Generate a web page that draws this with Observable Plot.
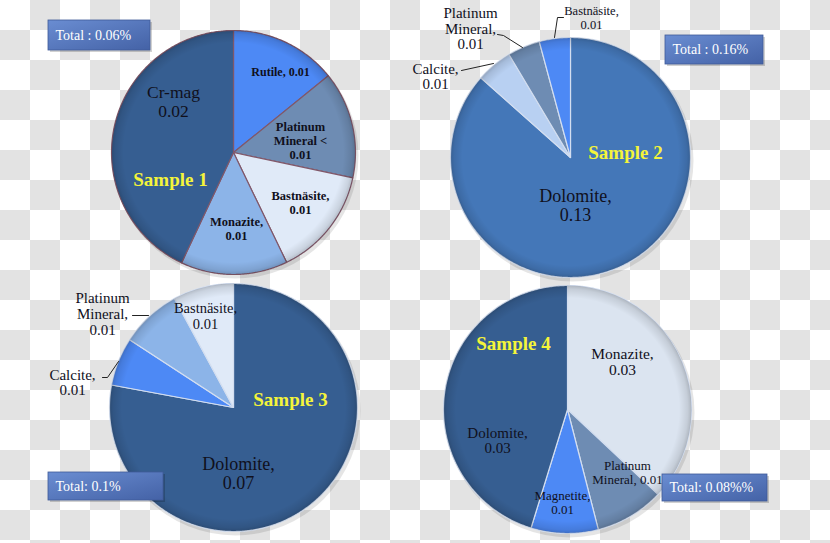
<!DOCTYPE html>
<html>
<head>
<meta charset="utf-8">
<script src="https://cdn.jsdelivr.net/npm/d3@7"></script>
<script src="https://cdn.jsdelivr.net/npm/@observablehq/plot@0.6"></script>
<style>
  html, body { margin: 0; padding: 0; }
  body {
    width: 830px; height: 543px; overflow: hidden;
    background: repeating-conic-gradient(#e3e3e3 0 25%, #ffffff 0 50%) 0 0 / 60px 60px;
  }
</style>
</head>
<body>
<div id="chart"></div>
<script>
// ---------------- DATA ----------------
const sampleNames = ["Sample 1", "Sample 2", "Sample 3", "Sample 4"];
const totalLabels = ["Total : 0.06%", "Total : 0.16%", "Total: 0.1%", "Total: 0.08%%"];

const sample1Minerals = ["Rutile", "Platinum Mineral", "Bastnäsite", "Monazite", "Cr-mag"];
const sample1Values   = [0.0085, 0.0085, 0.0087, 0.0085, 0.0258];
const sample1Labels   = ["Rutile, 0.01", "Platinum\nMineral <\n0.01", "Bastnäsite,\n0.01", "Monazite,\n0.01", "Cr-mag\n0.02"];

const sample2Minerals = ["Dolomite", "Calcite", "Platinum Mineral", "Bastnäsite"];
const sample2Values   = [0.1385, 0.0078, 0.0070, 0.0067];
const sample2Labels   = ["Dolomite,\n0.13", "Calcite,\n0.01", "Platinum\nMineral,\n0.01", "Bastnäsite,\n0.01"];

const sample3Minerals = ["Dolomite", "Calcite", "Platinum Mineral", "Bastnäsite"];
const sample3Values   = [0.0779, 0.0063, 0.0079, 0.0079];
const sample3Labels   = ["Dolomite,\n0.07", "Calcite,\n0.01", "Platinum\nMineral,\n0.01", "Bastnäsite,\n0.01"];

const sample4Minerals = ["Monazite", "Platinum Mineral", "Magnetite", "Dolomite"];
const sample4Values   = [0.0296, 0.0072, 0.0070, 0.0362];
const sample4Labels   = ["Monazite,\n0.03", "Platinum\nMineral, 0.01", "Magnetite,\n0.01", "Dolomite,\n0.03"];

// ---------------- STYLE / LAYOUT ----------------
const W = 830, H = 543;
const C = {
  dark: "#365e91", mid: "#4477b8", bright: "#4d89f5", grey: "#6e8cb3",
  light: "#8cb4e8", calc2: "#b8d0f2", vlight: "#e0eaf8", vlight4: "#dbe4f0"
};
const pies = [
  { cx: 233, cy: 152, r: 122, values: sample1Values, minerals: sample1Minerals, labels: sample1Labels,
    colors: [C.bright, C.grey, C.vlight, C.light, C.dark], stroke: "#80586a",
    labelPos: [[280, 71], [300, 140], [300, 202], [236, 228], [173, 101]],
    labelSize: [12, 12.5, 12.5, 12.5, 17.5], labelWeight: ["bold", "bold", "bold", "bold", "normal"], lh: [1.15, 1.12, 1.12, 1.12, 1.05],
    sample: [170, 179], box: [48, 150, 20, 50] },
  { cx: 570, cy: 157, r: 120, values: sample2Values, minerals: sample2Minerals, labels: sample2Labels,
    colors: [C.mid, C.calc2, C.grey, C.bright], stroke: "#d3def0",
    labelPos: [[575, 205], [435, 76], [470, 28], [591, 17]],
    labelSize: [18, 15, 15, 12.5], labelWeight: ["normal", "normal", "normal", "normal"], lh: [1.06, 1.0, 1.05, 1.12],
    sample: [625, 152], box: [665, 763, 35, 64] },
  { cx: 233, cy: 407, r: 124, values: sample3Values, minerals: sample3Minerals, labels: sample3Labels,
    colors: [C.dark, C.bright, C.light, C.vlight], stroke: "#d3def0",
    labelPos: [[238, 473], [72, 382], [102, 313], [205, 315]],
    labelSize: [18, 15, 15, 14.5], labelWeight: ["normal", "normal", "normal", "normal"], lh: [1.06, 1.05, 1.07, 1.1],
    sample: [290, 399], box: [48, 163, 472, 500] },
  { cx: 567, cy: 409, r: 124, values: sample4Values, minerals: sample4Minerals, labels: sample4Labels,
    colors: [C.vlight4, C.grey, C.bright, C.dark], stroke: "#d3def0",
    labelPos: [[622, 361], [627, 472], [562, 502], [497, 440]],
    labelSize: [15.5, 13, 13, 15], labelWeight: ["normal", "normal", "normal", "normal"], lh: [1.05, 1.1, 1.1, 1.0],
    sample: [513, 343], box: [662, 767, 474, 501] }
];
const leaders = [
  [[497, 34], [503, 35], [522, 47]],
  [[563, 17], [557, 17], [554, 37]],
  [[461, 70], [493, 63]],
  [[132, 315], [148, 315]],
  [[102, 377], [107, 377], [118, 361]]
];

// ---------------- BUILD ROWS ----------------
const sliceRows = [];
const labelRows = [];
const centerRows = [];
pies.forEach((p, pi) => {
  const arcs = d3.pie().sort(null).startAngle(0).endAngle(2 * Math.PI)(p.values);
  arcs.forEach((a, si) => {
    const key = `p${pi}s${si}`;
    const n = Math.max(2, Math.ceil((a.endAngle - a.startAngle) / 0.01));
    sliceRows.push({ key, x: p.cx, y: p.cy, fill: p.colors[si], stroke: p.stroke });
    for (let k = 0; k <= n; k++) {
      const t = a.startAngle + (a.endAngle - a.startAngle) * k / n;
      sliceRows.push({ key, x: p.cx + p.r * Math.sin(t), y: p.cy - p.r * Math.cos(t), fill: p.colors[si], stroke: p.stroke });
    }
    labelRows.push({ text: p.labels[si], x: p.labelPos[si][0], y: p.labelPos[si][1],
      size: p.labelSize[si], weight: p.labelWeight[si], lh: p.lh[si], pie: pi });
  });
  centerRows.push({ x: p.cx, y: p.cy, r: p.r, name: sampleNames[pi], sx: p.sample[0], sy: p.sample[1],
    bx1: p.box[0], bx2: p.box[1], by1: p.box[2], by2: p.box[3], total: totalLabels[pi] });
});
const leaderRows = leaders.flatMap((pts, i) => pts.map(([x, y]) => ({ id: i, x, y })));

const font = "'Liberation Serif', 'Times New Roman', serif";
const textMarks = labelRows.map(d => Plot.text([d], {
  x: "x", y: "y", text: "text", fill: "#10101c", fontSize: d.size, fontWeight: d.weight,
  lineHeight: d.lh, fontFamily: font
}));

const chart = Plot.plot({
  width: W, height: H,
  margin: 0,
  x: { domain: [0, W], range: [0, W], axis: null },
  y: { domain: [0, H], range: [0, H], axis: null },
  r: { type: "identity" },
  color: { type: "identity" },
  style: { background: "transparent", overflow: "visible" },
  marks: [
    // soft shadow under pies
    Plot.dot(centerRows, { x: d => d.x + 2, y: d => d.y + 3, r: d => d.r + 1, fill: "rgba(0,0,0,0.10)", stroke: "none" }),
    Plot.line(sliceRows, { x: "x", y: "y", z: "key", fill: "fill", stroke: "stroke", strokeWidth: 1.2, curve: "linear-closed" }),
    // bevel shading
    Plot.dot(centerRows, { x: "x", y: "y", r: "r", fill: "url(#bevel)", stroke: "none" }),
    Plot.line(leaderRows, { x: "x", y: "y", z: "id", stroke: "#222", strokeWidth: 1 }),
    ...textMarks,
    Plot.text(centerRows, { x: "sx", y: "sy", text: "name", fill: "#f4f43a", fontSize: 19, fontWeight: "bold", fontFamily: font }),
    // total boxes
    Plot.rect(centerRows, { x1: d => d.bx1 + 2, x2: d => d.bx2 + 2, y1: d => d.by1 + 2, y2: d => d.by2 + 2, fill: "rgba(0,0,0,0.18)" }),
    Plot.rect(centerRows, { x1: "bx1", x2: "bx2", y1: "by1", y2: "by2", fill: "url(#boxgrad)", stroke: "#3f5b98", strokeWidth: 0.8 }),
    Plot.text(centerRows, { x: d => d.bx1 + 7, y: d => (d.by1 + d.by2) / 2, text: "total", textAnchor: "start", fill: "white", fontSize: 14, fontFamily: font })
  ]
});
d3.select(chart).insert("defs", ":first-child").html(`
  <radialGradient id="bevel" cx="50%" cy="50%" r="50%">
    <stop offset="0%" stop-color="#000" stop-opacity="0"/>
    <stop offset="90%" stop-color="#000" stop-opacity="0"/>
    <stop offset="97%" stop-color="#000" stop-opacity="0.10"/>
    <stop offset="100%" stop-color="#000" stop-opacity="0.20"/>
  </radialGradient>
  <linearGradient id="boxgrad" x1="0" y1="0" x2="1" y2="1">
    <stop offset="0%" stop-color="#6a8dd2"/>
    <stop offset="100%" stop-color="#4462a6"/>
  </linearGradient>`);
document.getElementById("chart").appendChild(chart);
</script>
</body>
</html>
